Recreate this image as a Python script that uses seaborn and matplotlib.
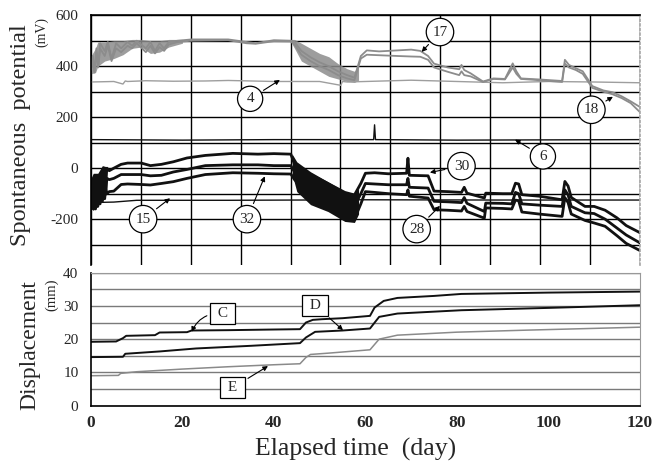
import numpy as np
import pandas as pd
import matplotlib
matplotlib.use('Agg')
import matplotlib.pyplot as plt
import seaborn as sns

# ---- spontaneous potential (mV) ----
# three black electrodes (30 = upper, 32 = middle, 28 = lower)
blk_day = [0, 0.5, 1, 1.5, 2, 2.5, 3, 3.5, 4, 5, 6.6, 8, 11, 13, 15.4, 18, 21, 25, 31, 36.5, 40, 43.7,
           44.5, 48, 51.8, 55.5, 57.6,
           59, 60, 62, 65, 69, 69.3, 69.6, 73.7, 75, 78, 81, 81.6, 82.2, 86, 86.3, 90, 92, 92.8, 93.5, 94.2,
           98, 103, 103.6, 104.3, 105, 108, 110, 112.4, 115, 117, 120]
sp30 = [-90, -150, -40, -130, -60, -20, -80, 0, -10, 0, 15, 20, 20, 10, 15, 25, 40, 50, 58, 55, 57, 55,
        15, -25, -60, -95, -105,
        -60, -20, -18, -22, -20, 39, -28, -30, -90, -92, -95, -75, -98, -117, -98, -100, -100, -59, -62, -104,
        -110, -124, -52, -70, -115, -150, -150, -165, -195, -225, -253]
sp32 = [-130, -60, -160, -80, -140, -60, -120, -40, -45, -40, -25, -25, -25, -30, -28, -15, -5, 10, 13, 13, 10, 10,
        -15, -70, -105, -140, -150,
        -100, -60, -62, -65, -65, -40, -75, -78, -130, -132, -135, -115, -138, -170, -137, -138, -140, -95, -100, -140,
        -145, -150, -85, -105, -150, -175, -178, -200, -235, -262, -293]
sp28 = [-100, -155, -70, -150, -90, -130, -70, -100, -92, -90, -64, -62, -64, -66, -60, -53, -40, -25, -18, -20, -22, -23,
        -45, -110, -145, -185, -200,
        -140, -92, -95, -100, -104, -85, -110, -117, -163, -165, -168, -150, -170, -196, -156, -158, -160, -125, -128, -172,
        -180, -189, -115, -135, -180, -205, -215, -228, -265, -295, -323]

# scatter envelopes of the black records (start-up and the slide around day 45-58)
blk_start_day = [0, 0.5, 1.5, 2.5, 3.5]
blk_start_lo = [-160, -165, -150, -120, -100]
blk_start_hi = [-40, -20, -20, 10, 5]
blk_drop_day = [44, 45, 48, 51.8, 55.5, 57.6, 58.5]
blk_drop_lo = [-25, -92, -143, -170, -209, -213, -180]
blk_drop_hi = [55, 25, -14, -53, -92, -100, -80]

# gray electrodes 17 and 18
gry_day = [0, 0.4, 0.8, 1.2, 1.6, 2, 3, 3.7, 4.5, 5.5, 6.6, 8, 9, 10, 12, 13, 14, 15, 16, 17, 19, 22,
           30, 34, 36, 40, 43.7,
           44.5, 46, 48, 50, 52, 54, 56, 57.6,
           59, 60.3, 63, 67, 70, 72, 73.7, 75, 78, 80.5, 81, 81.6, 83, 85.7, 88, 90.5, 92.2, 93,
           94, 98, 103, 103.6, 104.5, 106, 107.5, 109.6, 112, 114, 116, 118, 120]
sp17 = [390, 440, 380, 470, 400, 490, 460, 495, 430, 490, 470, 495, 480, 500, 470, 495, 460, 490, 470, 495, 500, 505,
        505, 495, 490, 502, 500,
        495, 460, 435, 415, 400, 380, 365, 355,
        440, 462, 458, 462, 465, 460, 440, 410, 395, 388, 405, 385, 372, 340, 352, 350, 411, 380,
        352, 348, 342, 425, 405, 392, 380, 322, 305, 298, 282, 262, 240]
sp18 = [385, 420, 375, 450, 395, 470, 440, 480, 420, 470, 455, 480, 470, 490, 455, 480, 450, 475, 460, 485, 495, 500,
        502, 490, 488, 498, 497,
        485, 445, 420, 400, 385, 365, 352, 345,
        430, 445, 443, 440, 438, 437, 425, 395, 378, 365, 380, 365, 360, 338, 350, 348, 395, 370,
        350, 345, 338, 410, 395, 385, 370, 315, 300, 290, 275, 255, 220]

gry_start_day = [0, 1, 1.5, 3, 5, 7, 9, 11, 13, 15, 17, 20]
gry_start_lo = [370, 375, 400, 420, 430, 445, 470, 475, 450, 455, 475, 490]
gry_start_hi = [440, 470, 495, 495, 500, 500, 505, 505, 500, 500, 505, 505]
gry_drop_day = [43.7, 44.5, 46, 48, 50, 52, 54, 56, 57.6, 58.5]
gry_drop_lo = [495, 470, 420, 400, 380, 360, 350, 340, 336, 345]
gry_drop_hi = [505, 505, 490, 470, 450, 437, 410, 390, 380, 400]

# nearly flat electrodes 4, 6, 15
flat4_day = [0, 5, 7, 7.5, 8, 12, 18, 25, 30, 40, 50, 54.6, 55, 56, 60, 70, 80, 90, 100, 110, 120]
sp4 = [338, 340, 330, 342, 340, 343, 341, 342, 344, 340, 340, 325, 340, 338, 340, 345, 340, 335, 340, 338, 335]
flat6_day = [0, 20, 40, 61.8, 62, 62.2, 80, 100, 120]
sp6 = [112, 110, 112, 112, 170, 112, 110, 111, 112]
flat15_day = [0, 5, 10, 30, 60, 90, 120]
sp15 = [-135, -133, -126, -126, -124, -125, -125]

# ---- displacement (mm) ----
c_day = [0, 5.5, 7, 7.7, 14, 15, 21, 22, 30, 40, 45.7, 47, 48.5, 50.5, 55, 61, 62, 64, 67, 75, 81, 100, 120]
disp_c = [19.2, 19.3, 20.3, 21.0, 21.2, 22.0, 22.1, 22.6, 22.7, 22.9, 23.0, 25.0, 25.8, 26.0, 26.3, 27.0,
          29.5, 31.5, 32.4, 33.0, 33.6, 34.0, 34.3]
d_day = [0, 7, 7.5, 15, 23, 35, 45.7, 47, 49, 55, 61, 63, 67, 81, 100, 120]
disp_d = [14.6, 14.7, 15.6, 16.3, 17.2, 18.0, 18.8, 20.5, 22.2, 22.6, 23.2, 26.7, 27.7, 28.7, 29.4, 30.2]
e_day = [0, 6, 6.5, 10, 20, 30, 40, 45.7, 47, 48, 52, 61, 63, 67, 80, 95, 120]
disp_e = [9.0, 9.1, 9.7, 10.2, 11.0, 11.7, 12.3, 12.6, 14.5, 15.4, 15.8, 16.8, 20.0, 21.2, 22.1, 22.7, 23.6]

sns.set_theme(style='white')
plt.rcParams['font.family'] = ['Liberation Serif', 'DejaVu Serif']

fig = plt.figure(figsize=(6.59, 4.75), dpi=100)
ax1 = fig.add_axes([0.138, 0.442, 0.833, 0.526])
ax2 = fig.add_axes([0.138, 0.146, 0.833, 0.28])

GRAY = '#8c8c8c'
BLK = '#111111'

# top panel
sns.lineplot(x=flat4_day, y=sp4, ax=ax1, color='#9e9e9e', lw=1.0)
ax1.fill_between(gry_start_day, gry_start_lo, gry_start_hi, color=GRAY, lw=0, alpha=0.85)
ax1.fill_between(gry_drop_day, gry_drop_lo, gry_drop_hi, color=GRAY, lw=0, alpha=0.85)
sns.lineplot(x=gry_day, y=sp17, ax=ax1, color=GRAY, lw=1.3)
sns.lineplot(x=gry_day, y=sp18, ax=ax1, color=GRAY, lw=1.3)
sns.lineplot(x=flat6_day, y=sp6, ax=ax1, color=BLK, lw=1.0)
sns.lineplot(x=flat15_day, y=sp15, ax=ax1, color=BLK, lw=1.0)
ax1.fill_between(blk_start_day, blk_start_lo, blk_start_hi, color=BLK, lw=0)
ax1.fill_between(blk_drop_day, blk_drop_lo, blk_drop_hi, color=BLK, lw=0)
for vals in (sp30, sp32, sp28):
    sns.lineplot(x=blk_day, y=vals, ax=ax1, color=BLK, lw=2.0)

ax1.set_xlim(0, 120)
ax1.set_ylim(-380, 600)
ax1.set_xticks(np.linspace(0, 120, 12))
ax1.set_xticklabels([])
yt = np.arange(-300, 601, 100)
ax1.set_yticks(yt)
ax1.set_yticklabels([str(v) if v % 200 == 0 else '' for v in yt], fontsize=11)
ax1.tick_params(length=0, pad=9)
ax1.grid(True, color='black', lw=1.0)
ax1.set_xlabel('')
ax1.set_ylabel('')
for s in ('top', 'left'):
    ax1.spines[s].set_color('black')
    ax1.spines[s].set_linewidth(1.2)
ax1.spines['bottom'].set_visible(False)
ax1.spines['right'].set_color('#aaaaaa')
ax1.spines['right'].set_linestyle(':')

# bottom panel
sns.lineplot(x=c_day, y=disp_c, ax=ax2, color=BLK, lw=1.4)
sns.lineplot(x=d_day, y=disp_d, ax=ax2, color=BLK, lw=1.4)
sns.lineplot(x=e_day, y=disp_e, ax=ax2, color='#8a8a8a', lw=1.1)

ax2.set_xlim(0, 120)
ax2.set_ylim(0, 40)
yt2 = np.arange(0, 41, 5)
ax2.set_yticks(yt2)
ax2.set_yticklabels([str(v) if v % 10 == 0 else '' for v in yt2], fontsize=11)
ax2.set_xticks(range(0, 121, 20))
ax2.set_xticklabels([str(v) for v in range(0, 121, 20)], fontsize=12.5, fontweight='bold')
ax2.tick_params(axis='x', direction='in', length=3, width=1, color='black', pad=7)
ax2.tick_params(axis='y', length=0, pad=9)
ax2.grid(True, axis='y', color='#7a7a7a', lw=1.0)
ax2.set_xlabel('')
ax2.set_ylabel('')
for s in ('bottom', 'left'):
    ax2.spines[s].set_color('black')
    ax2.spines[s].set_linewidth(1.2)
for s in ('top', 'right'):
    ax2.spines[s].set_color('#999999')
    ax2.spines[s].set_linewidth(0.8)

# labels
circ = dict(boxstyle='circle,pad=0.4', fc='white', ec='black', lw=0.9)
arr = dict(arrowstyle='-|>', color='black', lw=0.8, mutation_scale=7, shrinkB=0)
for txt, xy, xyt in [('4', (41.3, 346), (34.8, 272)), ('15', (17.3, -118), (11.4, -200)),
                     ('32', (38, -32), (34.1, -200)), ('17', (72.3, 456), (76.3, 534)),
                     ('18', (114.1, 280), (109.4, 229)), ('6', (92.7, 112), (98.8, 46)),
                     ('30', (74.1, -17), (81, 8)), ('28', (76.3, -148), (71.2, -239))]:
    ax1.annotate(txt, xy=xy, xytext=xyt, fontsize=11, ha='center', va='center',
                 bbox=circ, arrowprops=arr)

box = dict(boxstyle='square,pad=0.25', fc='white', ec='black', lw=0.9)
ax2.annotate(' C ', xy=(22, 22.2), xytext=(28.8, 27.7), fontsize=11, ha='center', va='center', bbox=box,
             arrowprops=dict(arr, connectionstyle='arc3,rad=0.35'))
ax2.annotate(' D ', xy=(55.1, 22.7), xytext=(49, 30.2), fontsize=11, ha='center', va='center', bbox=box,
             arrowprops=arr)
ax2.annotate(' E ', xy=(38.7, 11.9), xytext=(31, 5.4), fontsize=11, ha='center', va='center', bbox=box,
             arrowprops=arr)

fig.text(0.031, 0.716, 'Spontaneous  potential', rotation=90, fontsize=17.5, ha='center', va='center')
fig.text(0.063, 0.933, '(mV)', rotation=90, fontsize=10, ha='center', va='center')
fig.text(0.045, 0.274, 'Displacement', rotation=90, fontsize=17, ha='center', va='center')
fig.text(0.079, 0.379, '(mm)', rotation=90, fontsize=10.5, ha='center', va='center')
fig.text(0.539, 0.053, 'Elapsed time  (day)', fontsize=18.5, ha='center', va='center')

fig.savefig('out.png', dpi=100)
